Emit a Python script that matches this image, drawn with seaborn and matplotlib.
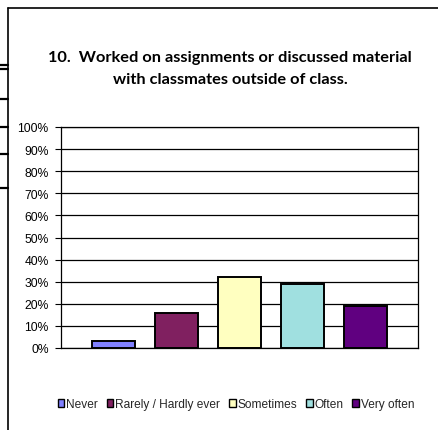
import matplotlib
matplotlib.use("Agg")
import matplotlib.pyplot as plt
from matplotlib.lines import Line2D
from matplotlib.patches import Patch
import seaborn as sns
import pandas as pd

title_lines = ["10.  Worked on assignments or discussed material",
               "with classmates outside of class."]
categories = ["Never", "Rarely / Hardly ever", "Sometimes", "Often", "Very often"]
values = [3, 16, 32, 29, 19]
colors = ["#8080FF", "#802060", "#FFFFC0", "#A0E0E0", "#600080"]
yticks = [0, 10, 20, 30, 40, 50, 60, 70, 80, 90, 100]
ytick_labels = [f"{v}%" for v in yticks]

sns.set_theme(style="white")
plt.rcParams['font.family'] = ['Liberation Sans', 'DejaVu Sans']

W, H = 438, 431
fig = plt.figure(figsize=(W / 100, H / 100), dpi=100)
ax = fig.add_axes([61 / W, (H - 349) / H, (418 - 61) / W, (349 - 128) / H])

df = pd.DataFrame({"group": ["Q"] * len(categories), "response": categories, "value": values})
sns.barplot(data=df, x="group", y="value", hue="response", hue_order=categories,
            palette=colors, width=0.882, gap=0.325, edgecolor="black", linewidth=1.4,
            ax=ax, legend=False, saturation=1)

ax.set_xlim(-0.5, 0.5)
ax.set_ylim(0, 100)
ax.set_yticks(yticks)
ax.set_yticklabels(ytick_labels, fontsize=8.7, color="black")
ax.set_xticks([])
ax.set_xlabel("")
ax.set_ylabel("")
ax.yaxis.grid(True, color="black", linewidth=0.9)
ax.set_axisbelow(True)
ax.tick_params(axis="y", left=True, length=4, width=0.8, color="black", pad=5)
for s in ax.spines.values():
    s.set_visible(True)
    s.set_color("black")
    s.set_linewidth(0.9)

# title
fig.text(230 / W, 1 - 58 / H, title_lines[0], ha="center", va="center",
         fontsize=11.8, fontweight="bold", color="black", family=["Lato", "DejaVu Sans"])
fig.text(230 / W, 1 - 80 / H, title_lines[1], ha="center", va="center",
         fontsize=11.8, fontweight="bold", color="black", family=["Lato", "DejaVu Sans"])

# legend
handles = [Patch(facecolor=c, edgecolor="black", linewidth=1.0) for c in colors]
fig.legend(handles, categories, loc="center", bbox_to_anchor=(236 / W, 1 - 405 / H),
           ncol=5, frameon=False, fontsize=8.6, handlelength=0.55, handleheight=0.6,
           handletextpad=0.15, columnspacing=0.75, borderpad=0)

# outer chart frame (partially visible)
fig.add_artist(Line2D([8 / W, 8 / W], [0, 1 - 9 / H], transform=fig.transFigure,
                      color="black", linewidth=1.2))
fig.add_artist(Line2D([8 / W, 1], [1 - 9 / H, 1 - 9 / H], transform=fig.transFigure,
                      color="black", linewidth=1.2))
for yy in [66, 70, 100, 128, 155, 189]:
    fig.add_artist(Line2D([0, 8 / W], [1 - yy / H, 1 - yy / H], transform=fig.transFigure,
                          color="black", linewidth=1.6))

fig.savefig("out.png", dpi=100, facecolor="white")
